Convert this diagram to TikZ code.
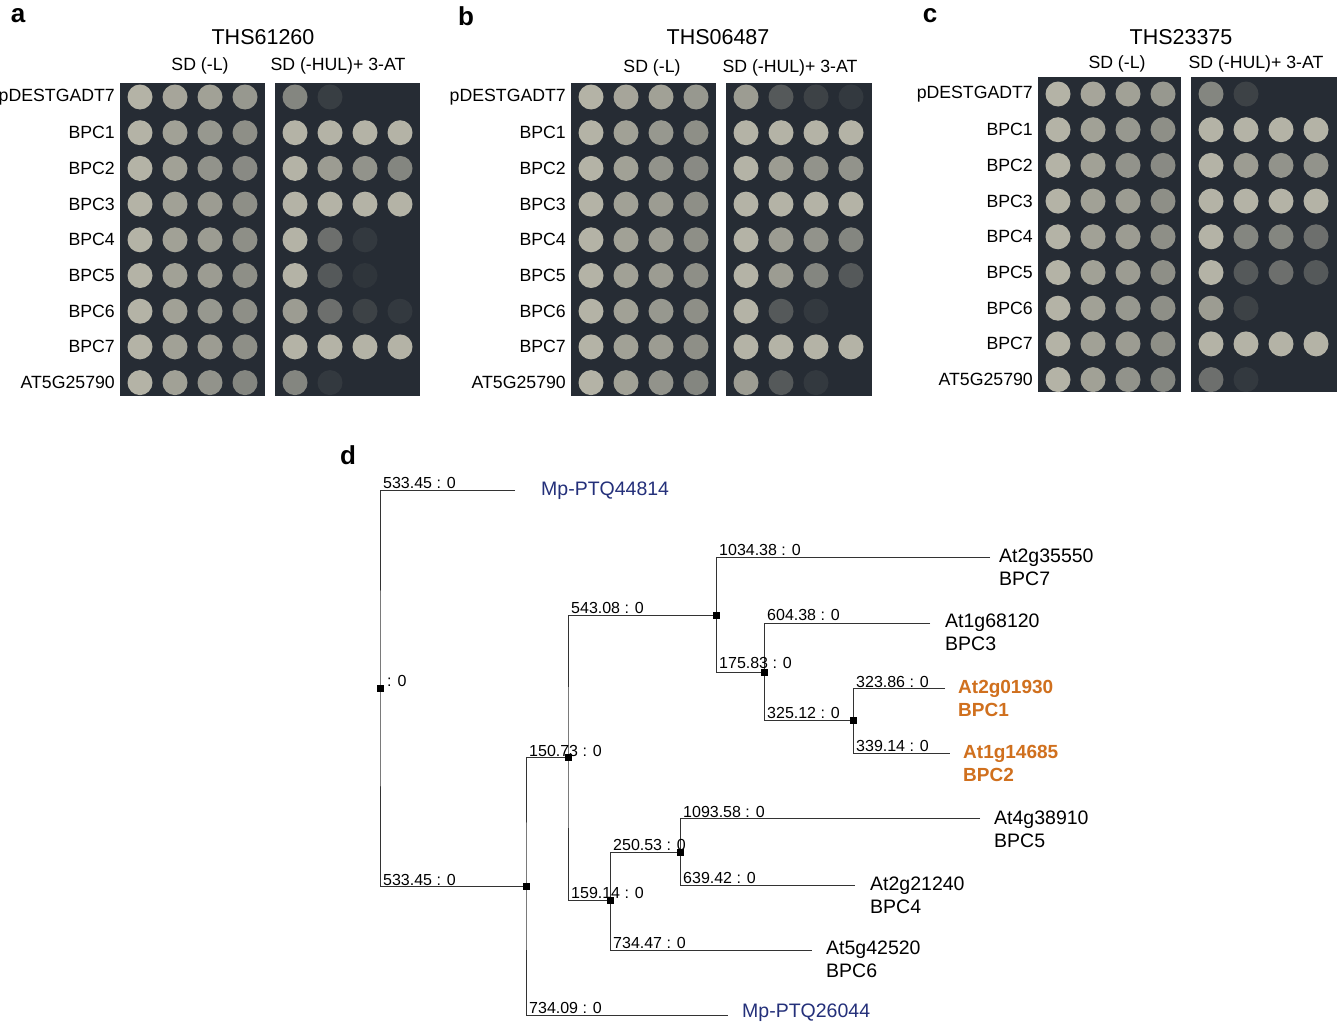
\documentclass[tikz,border=0pt]{standalone}
\usepackage{fontspec}
\setmainfont{Liberation Sans}
\begin{document}
\begin{tikzpicture}[x=1pt,y=-1pt,
  plt/.style={fill=plate,draw=none},
  br/.style={draw=black!80,line width=0.9pt},
  bl/.style={font=\fontsize{16}{16}\selectfont,anchor=south west,inner xsep=1pt,inner ysep=2.5pt},
  leaf/.style={font=\fontsize{19.5}{23}\selectfont,anchor=west,align=left,inner sep=1pt},
  sq/.style={fill=black,minimum size=7pt,inner sep=0pt,draw=none},
  rl/.style={font=\fontsize{17.7}{18}\selectfont,anchor=east,inner sep=1pt},
  hd/.style={font=\fontsize{17.7}{18}\selectfont,inner sep=1pt},
  ttl/.style={font=\fontsize{21.5}{22}\selectfont,inner sep=1pt},
  pl/.style={font=\bfseries\fontsize{26}{26}\selectfont,inner sep=1pt}]
\definecolor{plate}{HTML}{262C34}
\definecolor{spotc}{HTML}{B4B3A6}
\definecolor{mpblue}{HTML}{24307A}
\definecolor{bpcor}{HTML}{D0701E}
\useasboundingbox (0,0) rectangle (1337,1025);
\fill[white] (0,0) rectangle (1337,1025);
% ---------- plates ----------
\newcommand{\spots}[4]{% x0 (first col center), y0 (first row), rowstep, data
  \foreach \rw [count=\i] in {#4}{
    \foreach \v [count=\j] in \rw {
      \pgfmathsetmacro\op{\v/3}
      \fill[spotc,fill opacity=\op] ({#1+35*(\j-1)},{#2+#3*(\i-1)}) circle (12.5);
    }
  }}
% panel a
\fill[plt] (120,83) rectangle (265,396);
\fill[plt] (275,83) rectangle (420,396);
\spots{140}{97}{35.7}{{3,2.7,2.6,2.4},{3,2.6,2.4,2.2},{3,2.6,2.3,2.1},{3,2.6,2.5,2.2},{3,2.6,2.5,2.2},{3,2.6,2.5,2.2},{3,2.6,2.4,2.2},{3,2.6,2.5,2.2},{3,2.6,2.3,2}}
\spots{295}{97}{35.7}{{2,0.4,0,0},{3,3,3,3},{3,2.5,2.3,2},{3,3,3,3},{3,1.5,0.3,0},{3,1,0.2,0},{2.5,1.5,0.5,0.3},{3,3,3,3},{2,0.3,0,0}}
% panel b
\fill[plt] (571,83) rectangle (716,396);
\fill[plt] (726,83) rectangle (872,396);
\spots{591}{97}{35.7}{{3,2.7,2.6,2.4},{3,2.6,2.4,2.2},{3,2.6,2.3,2.1},{3,2.6,2.5,2.2},{3,2.6,2.5,2.2},{3,2.6,2.5,2.2},{3,2.6,2.4,2.2},{3,2.6,2.5,2.2},{3,2.6,2.3,2}}
\spots{746}{97}{35.7}{{2.5,1,0.5,0.3},{3,3,3,3},{3,2.5,2.3,2.3},{3,3,3,3},{3,2.5,2.3,2},{3,2.5,2,1},{3,1,0.3,0},{3,3,3,3},{2.5,1,0.3,0}}
% panel c
\fill[plt] (1038,77) rectangle (1181,392);
\fill[plt] (1191,77) rectangle (1337,392);
\spots{1058}{94}{35.7}{{3,2.7,2.6,2.4},{3,2.6,2.4,2.2},{3,2.6,2.3,2.1},{3,2.6,2.5,2.2},{3,2.6,2.5,2.2},{3,2.6,2.5,2.2},{3,2.6,2.4,2.2},{3,2.6,2.5,2.2},{3,2.6,2.3,2}}
\spots{1211}{94}{35.7}{{2,0.5,0,0},{3,3,3,3},{3,2.5,2.3,2.3},{3,3,3,3},{3,2,2,1.5},{3,1,1.5,1},{2.5,0.5,0,0},{3,3,3,3},{1.5,0.3,0,0}}
% row labels
\foreach \nm [count=\i] in {pDESTGADT7,BPC1,BPC2,BPC3,BPC4,BPC5,BPC6,BPC7,AT5G25790}{
  \node[rl] (la\i) at (116,{97+35.7*(\i-1)}) {\nm};
  \node[rl] (lb\i) at (567,{97+35.7*(\i-1)}) {\nm};
  \node[rl] (lc\i) at (1034,{94+35.7*(\i-1)}) {\nm};
}
% headers
\node[pl] (pa) at (18,16) {a};
\node[pl] (pb) at (466,16) {b};
\node[pl] (pc) at (930,16) {c};
\node[pl] (pd) at (348,455) {d};
\node[ttl] (ta) at (263,37) {THS61260};
\node[ttl] (tb) at (718,37) {THS06487};
\node[ttl] (tc) at (1181,37) {THS23375};
\node[hd] (ha1) at (200,66) {SD (-L)};
\node[hd] (ha2) at (338,66) {SD (-HUL)+ 3-AT};
\node[hd] (hb1) at (652,68) {SD (-L)};
\node[hd] (hb2) at (790,68) {SD (-HUL)+ 3-AT};
\node[hd] (hc1) at (1117,64) {SD (-L)};
\node[hd] (hc2) at (1256,64) {SD (-HUL)+ 3-AT};
% ---------- tree ----------
\coordinate (r) at (380,688);
\coordinate (n1) at (526,886);
\coordinate (n2) at (568,757);
\coordinate (n3) at (716,615);
\coordinate (n4) at (764,672);
\coordinate (n5) at (853,720);
\coordinate (n6) at (610,900);
\coordinate (n7) at (680,852);
\coordinate (e1) at (515,490);
\coordinate (e2) at (728,1015);
\coordinate (e3) at (990,557);
\coordinate (e4) at (930,623);
\coordinate (e5) at (945,688);
\coordinate (e6) at (950,753);
\coordinate (e7) at (980,818);
\coordinate (e8) at (855,885);
\coordinate (e9) at (812,950);
\draw[br] (e1) -| (r) |- (n1);
\draw[br] (n2) -| (n1) |- (e2);
\draw[br] (n3) -| (n2) |- (n6);
\draw[br] (e3) -| (n3) |- (n4);
\draw[br] (e4) -| (n4) |- (n5);
\draw[br] (e5) -| (n5) |- (e6);
\draw[br] (n7) -| (n6) |- (e9);
\draw[br] (e7) -| (n7) |- (e8);
\foreach \n in {r,n1,n2,n3,n4,n5,n6,n7} \node[sq] at (\n) {};
% branch labels
\node[bl] at (382,491) {533.45 : 0};
\node[bl,anchor=west] at (386,681) {: 0};
\node[bl] at (382,888) {533.45 : 0};
\node[bl] at (528,759) {150.73 : 0};
\node[bl] at (528,1016) {734.09 : 0};
\node[bl] at (570,616) {543.08 : 0};
\node[bl] at (570,901) {159.14 : 0};
\node[bl] at (718,558) {1034.38 : 0};
\node[bl] at (718,671) {175.83 : 0};
\node[bl] at (766,623) {604.38 : 0};
\node[bl] at (766,721) {325.12 : 0};
\node[bl] at (855,690) {323.86 : 0};
\node[bl] at (855,754) {339.14 : 0};
\node[bl] at (612,853) {250.53 : 0};
\node[bl] at (612,951) {734.47 : 0};
\node[bl] at (682,820) {1093.58 : 0};
\node[bl] at (682,886) {639.42 : 0};
% leaves
\node[leaf,text=mpblue] (m1) at (540,491) {Mp-PTQ44814};
\node[leaf,text=mpblue] (m2) at (741,1013) {Mp-PTQ26044};
\node[leaf] (l7) at (998,567) {At2g35550\\BPC7};
\node[leaf] (l3) at (944,632) {At1g68120\\BPC3};
\node[leaf,text=bpcor,font=\bfseries\fontsize{19}{23}\selectfont] (l1) at (957,698) {At2g01930\\BPC1};
\node[leaf,text=bpcor,font=\bfseries\fontsize{19}{23}\selectfont] (l2) at (962,763) {At1g14685\\BPC2};
\node[leaf] (l5) at (993,829) {At4g38910\\BPC5};
\node[leaf] (l4) at (869,895) {At2g21240\\BPC4};
\node[leaf] (l6) at (825,959) {At5g42520\\BPC6};
\end{tikzpicture}
\end{document}
